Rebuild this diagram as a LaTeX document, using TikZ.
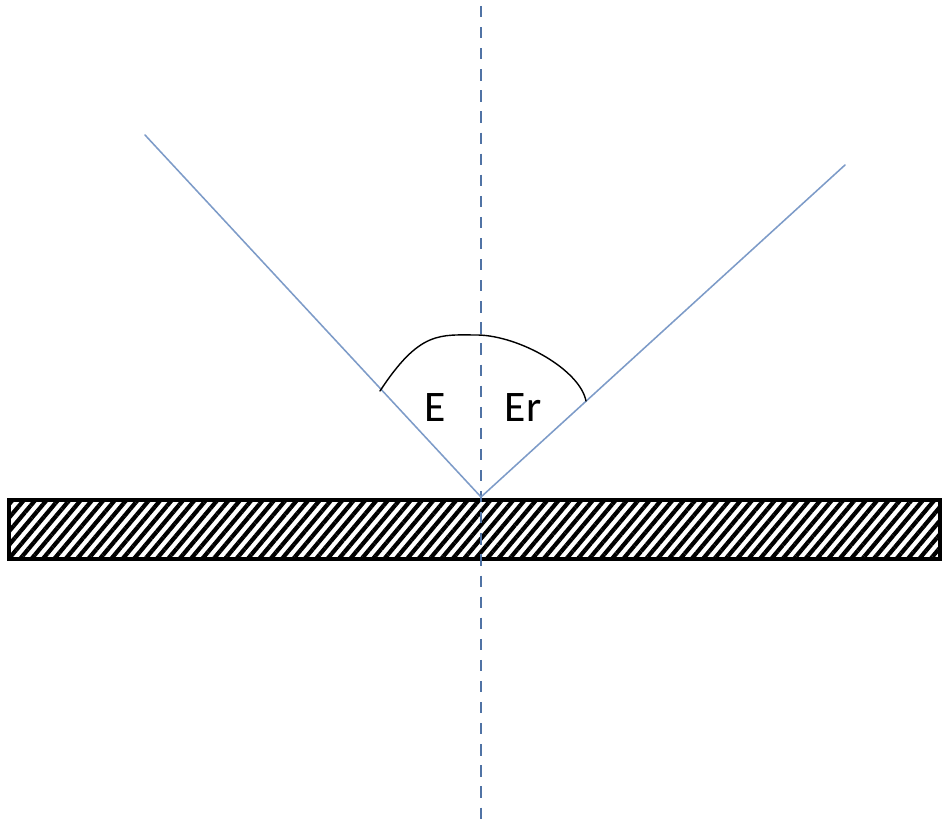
\documentclass[tikz,border=0pt]{standalone}
\usepackage{fontspec}
\setmainfont{Carlito}
\usetikzlibrary{patterns.meta}
\definecolor{raycol}{RGB}{125,155,200}
\definecolor{normcol}{RGB}{80,115,165}
\begin{document}
\begin{tikzpicture}[x=0.025cm, y=-0.025cm, font=\fontsize{31}{36}\selectfont, line join=round, line cap=round]
				\useasboundingbox (0,0) rectangle (943,827);
				% mirror with hatching
				\fill[pattern={Lines[angle=50, distance=6.2pt, line width=3pt]}] (9,500) rectangle (940,559);
				\draw[line width=2.8pt, line cap=butt, line join=miter] (9,500) rectangle (940,559);
				% normal
				\coordinate (O) at (481,497);
				\draw[normcol, line width=1pt, line cap=butt, dash pattern=on 8 off 7] (481,6) -- (481,827);
				% rays
				\draw[raycol, line width=1.1pt] (O) -- (145,135);
				\draw[raycol, line width=1.1pt] (O) -- (845,165);
				% angle arc
				\draw[line width=1pt] (380,391) .. controls (420,330) and (440,335) .. (478,335) .. controls (520,336) and (580,370) .. (586,401);
				\node[anchor=base] (inc) at (435,421) {E};
				\node[anchor=base] (refl) at (523,421) {Er};
			\end{tikzpicture}
\end{document}
